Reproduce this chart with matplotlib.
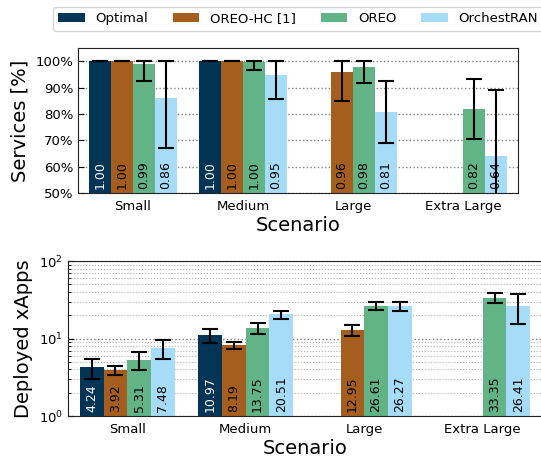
import numpy as np
import matplotlib
matplotlib.use("Agg")
import matplotlib.pyplot as plt
from matplotlib.ticker import FuncFormatter

# --- data ---
scenarios = ["Small", "Medium", "Large", "Extra Large"]
methods = ["Optimal", "OREO-HC [1]", "OREO", "OrchestRAN"]
colors = ["#023456", "#a65e1e", "#62b385", "#a6dcf8"]
label_colors = ["white", "black", "black", "black"]

# services served (fraction), mean and std per method
svc_optimal = [1.00, 1.00, np.nan, np.nan]
svc_hc = [1.00, 1.00, 0.96, np.nan]
svc_oreo = [0.989, 0.997, 0.977, 0.818]
svc_orch = [0.86, 0.948, 0.807, 0.641]
svc_optimal_std = [0.0, 0.0, np.nan, np.nan]
svc_hc_std = [0.0, 0.0, 0.11, np.nan]
svc_oreo_std = [0.066, 0.032, 0.058, 0.115]
svc_orch_std = [0.19, 0.09, 0.116, 0.248]

# deployed xApps, mean and std per method
xapps_optimal = [4.24, 10.97, np.nan, np.nan]
xapps_hc = [3.92, 8.19, 12.95, np.nan]
xapps_oreo = [5.31, 13.75, 26.61, 33.35]
xapps_orch = [7.48, 20.51, 26.27, 26.41]
xapps_optimal_std = [1.2, 2.3, np.nan, np.nan]
xapps_hc_std = [0.55, 0.9, 2.2, np.nan]
xapps_oreo_std = [1.4, 2.3, 3.4, 5.0]
xapps_orch_std = [2.1, 2.4, 3.3, 11.0]

svc_means = [svc_optimal, svc_hc, svc_oreo, svc_orch]
svc_stds = [svc_optimal_std, svc_hc_std, svc_oreo_std, svc_orch_std]
xapps_means = [xapps_optimal, xapps_hc, xapps_oreo, xapps_orch]
xapps_stds = [xapps_optimal_std, xapps_hc_std, xapps_oreo_std, xapps_orch_std]

plt.rcParams["font.family"] = "DejaVu Sans"

W, H = 541, 457
fig = plt.figure(figsize=(W / 100, H / 100), dpi=100)
ax1 = fig.add_axes([78 / W, 1 - 193 / H, 440 / W, 145 / H])
ax2 = fig.add_axes([68 / W, 1 - 416 / H, 474 / W, 155 / H])

x = np.arange(len(scenarios))
width = 0.2
offsets = [-0.3, -0.1, 0.1, 0.3]


def draw_bars(ax, means, stds, clip_top=None, base=0.0):
    handles = []
    for i, (m, s) in enumerate(zip(means, stds)):
        m = np.asarray(m, dtype=float)
        s = np.asarray(s, dtype=float)
        xs = x + offsets[i]
        b = ax.bar(xs, m, width, color=colors[i], label=methods[i], zorder=2)
        handles.append(b)
        lo = s
        hi = s if clip_top is None else np.minimum(m + s, clip_top) - m
        ok = ~np.isnan(m)
        ax.errorbar(xs[ok], m[ok], yerr=[lo[ok], hi[ok]], fmt="none",
                    ecolor="black", elinewidth=1.5, capsize=6, capthick=1.5,
                    zorder=3)
        for xi, mi in zip(xs[ok], m[ok]):
            ax.annotate(f"{mi:.2f}", (xi, base), xytext=(0, 3),
                        textcoords="offset points", rotation=90,
                        ha="center", va="bottom", fontsize=9,
                        color=label_colors[i], zorder=4)
    return handles


handles = draw_bars(ax1, svc_means, svc_stds, clip_top=1.0, base=0.5)
ax1.set_ylim(0.5, 1.05)
ax1.set_yticks([0.5, 0.6, 0.7, 0.8, 0.9, 1.0])
ax1.yaxis.set_major_formatter(FuncFormatter(lambda v, _: f"{v * 100:.0f}%"))
ax1.set_ylabel("Services [%]", fontsize=14)
ax1.yaxis.grid(True, linestyle=":", color="gray", linewidth=1, zorder=0)

draw_bars(ax2, xapps_means, xapps_stds, base=1.0)
ax2.set_yscale("log")
ax2.set_ylim(1, 100)
ax2.set_ylabel("Deployed xApps", fontsize=14)
ax2.yaxis.grid(True, which="major", linestyle=":", color="gray", linewidth=1, zorder=0)
ax2.yaxis.grid(True, which="minor", linestyle=":", color="#b0b0b0", linewidth=0.8, zorder=0)

for ax in (ax1, ax2):
    ax.set_axisbelow(True)
    ax.set_xlim(-0.5, 3.5)
    ax.set_xticks(x)
    ax.set_xticklabels(scenarios)
    ax.set_xlabel("Scenario", fontsize=14, labelpad=2)
    ax.tick_params(direction="in", labelsize=9.5, length=4)
    ax.tick_params(which="minor", direction="in", length=2)
    ax.tick_params(axis="x", pad=5)
    for sp in ax.spines.values():
        sp.set_color("#222222")

fig.legend(handles=handles, labels=methods, loc="upper left",
           bbox_to_anchor=(53 / W, 1 - 7 / H), borderaxespad=0, ncol=4,
           fontsize=9.5, frameon=True, edgecolor="#cccccc", fancybox=True,
           columnspacing=1.9, handlelength=2.0, handletextpad=0.8)

fig.savefig("out.png", dpi=100)
